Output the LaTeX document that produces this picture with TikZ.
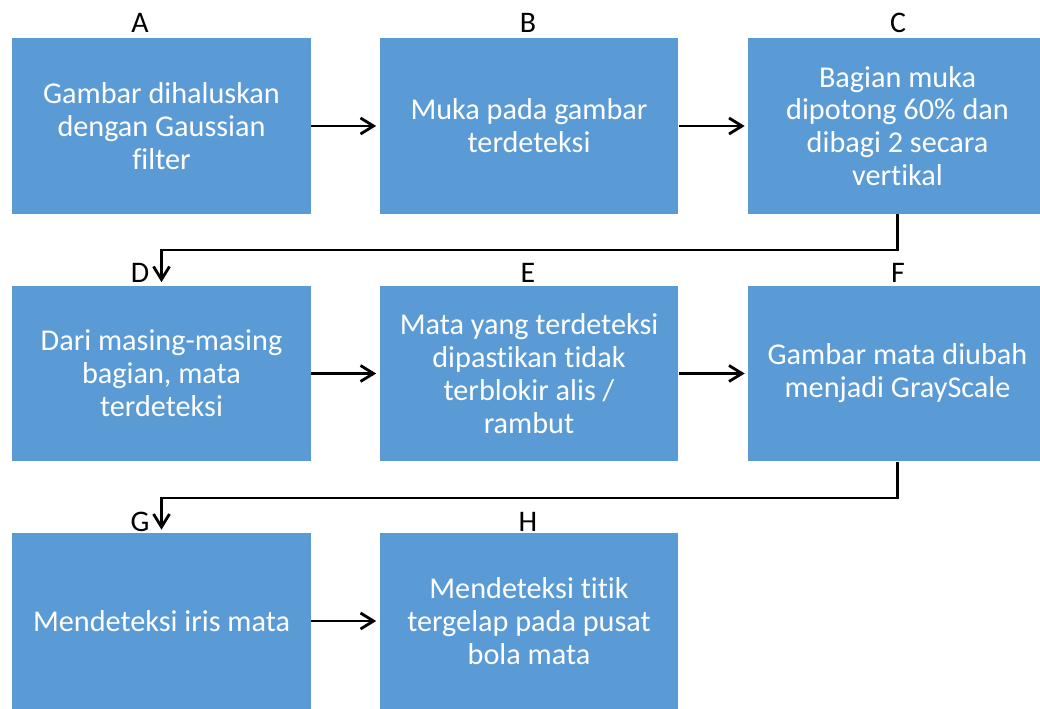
\documentclass[tikz,border=0pt]{standalone}
\usepackage{fontspec}
\setmainfont{Carlito}[Ligatures=CommonOff]
\usetikzlibrary{arrows.meta}
\definecolor{stageblue}{HTML}{5B9BD5}
\begin{document}
\begin{tikzpicture}[x=0.02cm, y=-0.02cm,
    stage/.style={rectangle, fill=stageblue, text=white, minimum width=5.98cm, minimum height=3.52cm, inner sep=0pt, align=center, font=\fontsize{17.2}{18.7}\selectfont},
    tag/.style={anchor=base, inner sep=0pt, font=\fontsize{17}{19}\selectfont},
    arrow/.style={-{Straight Barb[length=2.6mm,width=3.2mm]}, line width=1.6pt, shorten >=0.6mm}
]
    \useasboundingbox (0,0) rectangle (1040,709);
    \clip (0,0) rectangle (1040,709);

    % Baris 1
    \node[stage] (smooth) at (161.5,126) {Gambar dihaluskan\\dengan Gaussian\\filter};
    \node[stage] (face) at (529,126) {Muka pada gambar\\terdeteksi};
    \node[stage] (split) at (897.5,126) {Bagian muka\\dipotong 60\% dan\\dibagi 2 secara\\vertikal};

    % Baris 2
    \node[stage] (eyes) at (161.5,373.5) {Dari masing-masing\\bagian, mata\\terdeteksi};
    \node[stage] (check) at (529,373.5) {Mata yang terdeteksi\\dipastikan tidak\\terblokir alis /\\rambut};
    \node[stage] (gray) at (897.5,373.5) {Gambar mata diubah\\menjadi GrayScale};

    % Baris 3
    \node[stage] (iris) at (161.5,621) {Mendeteksi iris mata};
    \node[stage] (pupil) at (529,621) {Mendeteksi titik\\tergelap pada pusat\\bola mata};

    % Label huruf
    \node[tag] (tagA) at (140,33) {A};
    \node[tag] (tagB) at (528,33) {B};
    \node[tag] (tagC) at (898,33) {C};
    \node[tag] (tagD) at (140,282) {D};
    \node[tag] (tagE) at (528,282) {E};
    \node[tag] (tagF) at (898,282) {F};
    \node[tag] (tagG) at (140,531) {G};
    \node[tag] (tagH) at (528,531) {H};

    % Titik belok
    \coordinate (turnD) at (161.5,250);
    \coordinate (turnG) at (161.5,498);

    % Alur
    \draw[arrow] (smooth) -- (face);
    \draw[arrow] (face) -- (split);
    \draw[arrow] (split.south) |- (turnD) -- (eyes.north);
    \draw[arrow] (eyes) -- (check);
    \draw[arrow] (check) -- (gray);
    \draw[arrow] (gray.south) |- (turnG) -- (iris.north);
    \draw[arrow] (iris) -- (pupil);
\end{tikzpicture}
\end{document}
